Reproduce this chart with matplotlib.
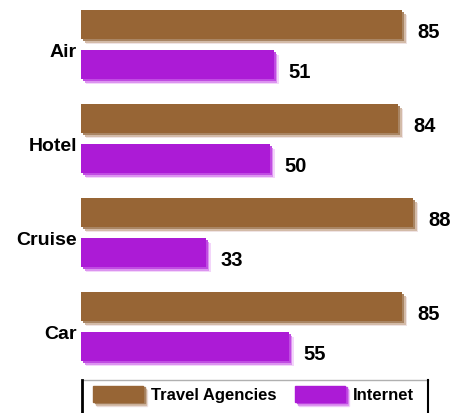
import matplotlib
matplotlib.use("Agg")
import matplotlib.pyplot as plt
from matplotlib.patches import Rectangle
from matplotlib import transforms
import numpy as np

categories = ["Air", "Hotel", "Cruise", "Car"]
travel_agencies = [85, 84, 88, 85]
internet = [51, 50, 33, 55]
series_names = ["Travel Agencies", "Internet"]

BROWN = "#976535"
PURPLE = "#ac1bd6"
BROWN_SHADES = ["#efe3e3", "#d3bba8", "#a98563"]
PURPLE_SHADES = ["#f3d5fa", "#dc94f0", "#c04ce2"]

plt.rcParams["font.family"] = ["Liberation Sans Narrow", "Liberation Sans", "DejaVu Sans"]
plt.rcParams["font.weight"] = "bold"

W, H = 465, 414
fig = plt.figure(figsize=(W / 100, H / 100), dpi=100)
ax = fig.add_axes([0, 0, 1, 1])
ax.set_axis_off()

# x: value units, zero at pixel 81, 85 -> pixel 402
px_per_unit = (402 - 81) / 85
ax.set_xlim(-81 / px_per_unit, (W - 81) / px_per_unit)
# y: one unit per group (94 px), group 0 centred at pixel 45.5
ax.set_ylim((H - 45.5) / 94, -45.5 / 94)

y = np.arange(len(categories))
off = 20 / 94
h = 29 / 94


def shadowed_barh(ypos, vals, color, shades):
    for k, d in enumerate([5, 3.5, 2]):
        tr = transforms.offset_copy(ax.transData, fig=fig, x=d, y=-d, units="dots")
        ax.barh(ypos, vals, height=h, color=shades[k], transform=tr, zorder=1 + k)
    ax.barh(ypos, vals, height=h, color=color, zorder=5)


shadowed_barh(y - off, travel_agencies, BROWN, BROWN_SHADES)
shadowed_barh(y + off, internet, PURPLE, PURPLE_SHADES)

lab_tr = transforms.offset_copy(ax.transData, fig=fig, x=15, y=-7, units="dots")
for i in range(len(categories)):
    ax.text(travel_agencies[i], y[i] - off, str(travel_agencies[i]), transform=lab_tr,
            ha="left", va="center", fontsize=14.5, fontweight="bold")
    ax.text(internet[i], y[i] + off, str(internet[i]), transform=lab_tr,
            ha="left", va="center", fontsize=14.5, fontweight="bold")

cat_tr = transforms.offset_copy(ax.transData, fig=fig, x=-4, y=-7, units="dots")
for i, c in enumerate(categories):
    ax.text(0, y[i], c, transform=cat_tr, ha="right", va="center",
            fontsize=14, fontweight="bold")

# legend box in pixel coordinates
lg = fig.add_axes([0, 0, 1, 1], zorder=10)
lg.set_xlim(0, W)
lg.set_ylim(H, 0)
lg.set_axis_off()
lg.patch.set_alpha(0)
lg.plot([82, 428], [381, 381], color="#b0b0b0", lw=1)
lg.plot([82, 82], [381, H], color="black", lw=2)
lg.plot([428, 428], [381, H], color="black", lw=1.5)

for x0, name, col, shades in [(93, series_names[0], BROWN, BROWN_SHADES),
                              (295, series_names[1], PURPLE, PURPLE_SHADES)]:
    for k, d in enumerate([4, 3, 1.5]):
        lg.add_patch(Rectangle((x0 + d, 387 + d), 50, 16, color=shades[k], zorder=1 + k))
    lg.add_patch(Rectangle((x0, 387), 50, 16, color=col, zorder=5))
    lg.text(x0 + 58, 396, name, ha="left", va="center", fontsize=12, fontweight="bold")

fig.savefig("out.png", dpi=100)
